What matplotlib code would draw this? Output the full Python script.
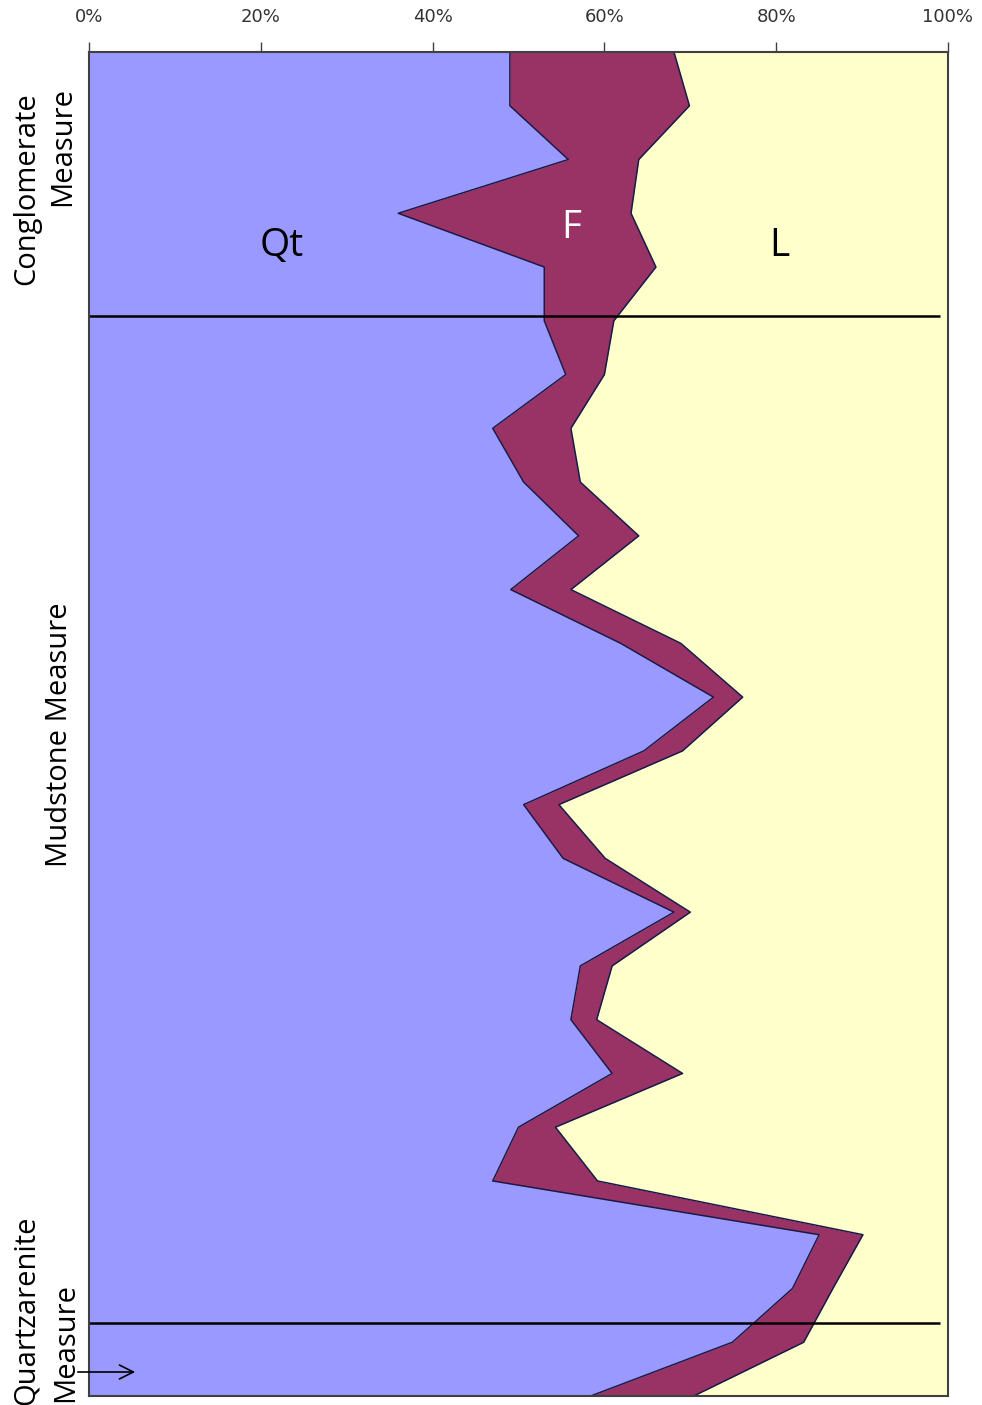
import matplotlib
matplotlib.use("Agg")
import matplotlib.pyplot as plt
import numpy as np
from matplotlib.patches import FancyArrowPatch

# Detrital composition per sample, top of section first (percent)
qt = [49.0, 49.0, 55.8, 36.0, 53.0, 53.0, 55.5, 47.0, 50.6, 57.0, 49.1, 61.9, 72.7,
      64.6, 50.6, 55.2, 68.1, 57.2, 56.1, 60.9, 50.0, 47.0, 85.0, 81.9, 74.9, 58.4]
f = [19.1, 20.9, 8.2, 27.1, 13.0, 8.1, 4.5, 9.1, 6.6, 7.0, 7.0, 7.0, 3.4,
     4.5, 4.1, 4.9, 1.9, 3.7, 3.0, 8.2, 4.3, 12.2, 5.1, 4.7, 8.3, 12.0]
lith = [31.9, 30.1, 36.0, 36.9, 34.0, 38.9, 40.0, 43.9, 42.8, 36.0, 43.9, 31.1, 23.9,
        30.9, 45.3, 39.9, 30.0, 39.1, 40.9, 30.9, 45.7, 40.8, 9.9, 13.4, 16.8, 29.6]

# unit boundaries (in sample-index units)
boundaries = [4.91, 23.64]
xticks = [0, 20, 40, 60, 80, 100]

QT_C, F_C, L_C = "#9999ff", "#993366", "#ffffcc"
EDGE = "#1a1a4a"

W, H = 982, 1405
fig = plt.figure(figsize=(W / 100, H / 100), dpi=100)
x0, x1, y0, y1 = 89, 948, 52, 1396
ax = fig.add_axes([x0 / W, 1 - y1 / H, (x1 - x0) / W, (y1 - y0) / H])

qt = np.array(qt)
f = np.array(f)
lith = np.array(lith)
tot = qt + f + lith
qt_p = qt / tot * 100
qf_p = (qt + f) / tot * 100
idx = np.arange(len(qt))

ax.fill_betweenx(idx, 0, qt_p, color=QT_C, lw=0)
ax.fill_betweenx(idx, qt_p, qf_p, color=F_C, lw=0)
ax.fill_betweenx(idx, qf_p, 100, color=L_C, lw=0)
ax.plot(qt_p, idx, color=EDGE, lw=1.1)
ax.plot(qf_p, idx, color=EDGE, lw=1.1)

for b in boundaries:
    ax.plot([0, 99.1], [b, b], color="black", lw=1.8, solid_capstyle="butt")

ax.set_xlim(0, 100)
ax.set_ylim(len(qt) - 1, 0)
ax.set_xticks(xticks)
ax.set_xticklabels([f"{t}%" for t in xticks])
ax.xaxis.tick_top()
ax.tick_params(axis="x", direction="out", length=7, width=1.0, color="#404040",
               pad=12, labelsize=13, labelcolor="#333333")
ax.set_yticks([])
for s in ax.spines.values():
    s.set_color("#404040")
    s.set_linewidth(1.5)

ax.text(22.4, 3.6, "Qt", fontsize=28, family="Open Sans", ha="center", va="center", color="black")
ax.text(56.1, 3.27, "F", fontsize=28, family="Open Sans", ha="center", va="center", color="white")
ax.text(80.4, 3.6, "L", fontsize=28, family="Open Sans", ha="center", va="center", color="black")

# stratigraphic unit labels along the left margin
labels = [("Conglomerate", 27, 189), ("Measure", 63, 147), ("Mudstone Measure", 60, 735),
          ("Quartzarenite", 26, 1310), ("Measure", 66, 1342)]
for txt, px, py in labels:
    fig.text(px / W, 1 - py / H, txt, rotation=90, fontsize=21, family="Open Sans",
             ha="center", va="center", color="black")

arr = FancyArrowPatch((75 / W, 1 - 1372 / H), (138 / W, 1 - 1372 / H),
                      transform=fig.transFigure, arrowstyle="->", mutation_scale=25,
                      color="black", lw=1.2)
fig.add_artist(arr)

fig.savefig("out.png", dpi=100, facecolor="white")
